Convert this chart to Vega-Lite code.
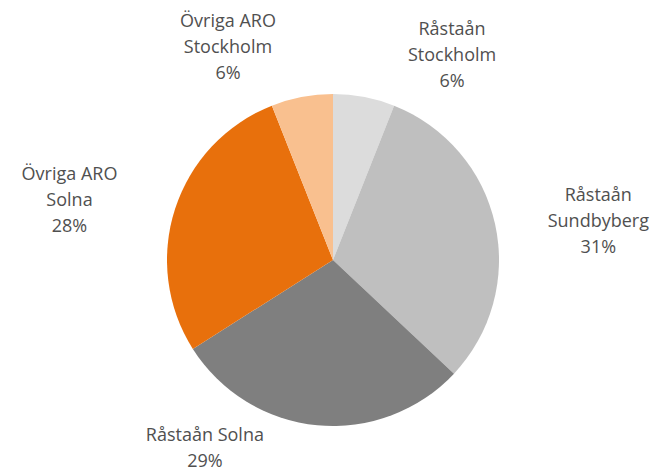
{
  "$schema": "https://vega.github.io/schema/vega-lite/v6.json",
  "autosize": "none",
  "width": 658,
  "height": 424,
  "padding": {"top": 48, "bottom": 0, "left": 4, "right": 0},
  "background": "white",
  "config": {
    "view": {"stroke": null},
    "text": {"lineBreak": "\n", "lineHeight": 26, "font": "Open Sans", "fontSize": 18, "color": "#505050", "align": "center", "baseline": "middle"}
  },
  "data": {
    "values": [
      {"order": 1, "name": "Råstaån Stockholm", "label": "Råstaån\nStockholm\n6%", "value": 6},
      {"order": 2, "name": "Råstaån Sundbyberg", "label": "Råstaån\nSundbyberg\n31%", "value": 31},
      {"order": 3, "name": "Råstaån Solna", "label": "Råstaån Solna\n29%", "value": 29},
      {"order": 4, "name": "Övriga ARO Solna", "label": "Övriga ARO\nSolna\n28%", "value": 28},
      {"order": 5, "name": "Övriga ARO Stockholm", "label": "Övriga ARO\nStockholm\n6%", "value": 6}
    ]
  },
  "encoding": {
    "theta": {"field": "value", "type": "quantitative", "stack": true},
    "order": {"field": "order", "type": "quantitative"}
  },
  "layer": [
    {
      "mark": {"type": "arc", "outerRadius": 166},
      "encoding": {
        "color": {
          "field": "name",
          "type": "nominal",
          "legend": null,
          "scale": {
            "domain": ["Råstaån Stockholm", "Råstaån Sundbyberg", "Råstaån Solna", "Övriga ARO Solna", "Övriga ARO Stockholm"],
            "range": ["#dcdcdc", "#bfbfbf", "#7f7f7f", "#e8700c", "#f9c08f"]
          }
        }
      }
    },
    {
      "mark": {"type": "text", "radius": 235, "dx": 75, "dy": 1},
      "encoding": {"text": {"condition": {"test": "datum.order == 1", "field": "label"}, "value": ""}}
    },
    {
      "mark": {"type": "text", "radius": 235, "dx": 36, "dy": -13},
      "encoding": {"text": {"condition": {"test": "datum.order == 2", "field": "label"}, "value": ""}}
    },
    {
      "mark": {"type": "text", "radius": 235, "dx": -106, "dy": -58},
      "encoding": {"text": {"condition": {"test": "datum.order == 3", "field": "label"}, "value": ""}}
    },
    {
      "mark": {"type": "text", "radius": 235, "dx": -40, "dy": -12},
      "encoding": {"text": {"condition": {"test": "datum.order == 4", "field": "label"}, "value": ""}}
    },
    {
      "mark": {"type": "text", "radius": 235, "dx": -61, "dy": -7},
      "encoding": {"text": {"condition": {"test": "datum.order == 5", "field": "label"}, "value": ""}}
    }
  ]
}
